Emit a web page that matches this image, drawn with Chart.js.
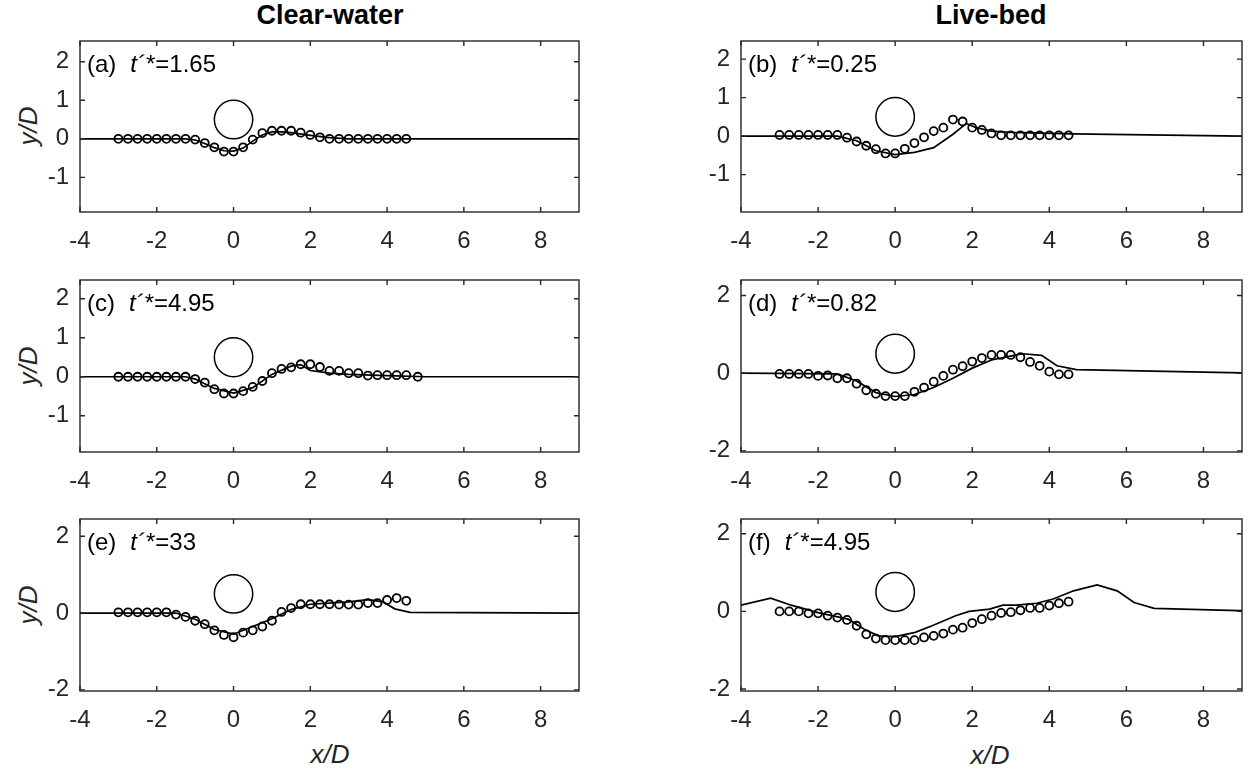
<!DOCTYPE html>
<html>
<head>
<meta charset="utf-8">
<script src="https://cdn.jsdelivr.net/npm/chart.js@4.4.1/dist/chart.umd.min.js"></script>
<style>
body { margin: 0; background: #fff; width: 1249px; height: 771px; position: relative; overflow: hidden; font-family: 'Liberation Sans', Arial, sans-serif; }
.box { position: absolute; }
.txt { position: absolute; white-space: nowrap; line-height: 1; transform: translate(-50%, -50%); color: #262626; }
.ttl { font-weight: bold; font-size: 27px; color: #000; }
.lab { font-style: italic; font-size: 26px; }
</style>
</head>
<body>
<div class="txt ttl" style="left:330px; top:15px">Clear-water</div>
<div class="txt ttl" style="left:991px; top:15px">Live-bed</div>
<div class="txt lab" style="left:28px; top:126px; transform:translate(-50%,-50%) rotate(-90deg)">y/D</div>
<div class="txt lab" style="left:28px; top:366px; transform:translate(-50%,-50%) rotate(-90deg)">y/D</div>
<div class="txt lab" style="left:28px; top:605px; transform:translate(-50%,-50%) rotate(-90deg)">y/D</div>
<div class="txt lab" style="left:330px; top:754px">x/D</div>
<div class="txt lab" style="left:990px; top:755px">x/D</div>

<script>
// axis ticks
const xTicks = [-4, -2, 0, 2, 4, 6, 8];
const yTicksFine = [-1, 0, 1, 2];
const yTicksCoarse = [-2, 0, 2];

// pier (circle of diameter D centred at x=0, y=0.5)
const pierX = 0, pierY = 0.5, pierR = 0.5;

// measured bed profile, x positions
const expX = [-3, -2.75, -2.5, -2.25, -2, -1.75, -1.5, -1.25, -1, -0.75, -0.5, -0.25, 0, 0.25, 0.5, 0.75,
  1, 1.25, 1.5, 1.75, 2, 2.25, 2.5, 2.75, 3, 3.25, 3.5, 3.75, 4, 4.25, 4.5];
const expXc = [-3, -2.75, -2.5, -2.25, -2, -1.75, -1.5, -1.25, -1, -0.75, -0.5, -0.25, 0, 0.25, 0.5, 0.75,
  1, 1.25, 1.5, 1.75, 2, 2.25, 2.5, 2.75, 3, 3.25, 3.5, 3.75, 4, 4.25, 4.5, 4.8];

// (a) clear-water t'*=1.65
const expA = [0, 0, 0, 0, 0, 0, 0, 0, -0.02, -0.11, -0.22, -0.33, -0.33, -0.22, -0.02, 0.15,
  0.21, 0.21, 0.21, 0.16, 0.10, 0.04, 0, 0, 0, 0, 0, 0, 0, 0, 0];
const numXA = [-4, -1.25, -1, -0.75, -0.5, -0.25, 0, 0.25, 0.5, 0.75, 1, 1.25, 1.5, 2, 2.5, 3, 9];
const numYA = [0, 0, -0.03, -0.12, -0.23, -0.31, -0.32, -0.24, -0.06, 0.1, 0.18, 0.18, 0.16, 0.09, 0.03, 0, 0];

// (b) live-bed t'*=0.25
const expB = [0.03, 0.03, 0.03, 0.03, 0.03, 0.03, 0.03, -0.04, -0.14, -0.25, -0.34, -0.45, -0.45, -0.33, -0.18, -0.03,
  0.13, 0.22, 0.43, 0.38, 0.22, 0.16, 0.07, 0.02, 0.02, 0.02, 0.02, 0.02, 0.02, 0.02, 0.02];
const numXB = [-4, -1.5, -1, -0.5, 0, 0.5, 1, 1.5, 1.85, 2.1, 2.5, 3, 4.6, 9];
const numYB = [0, 0, -0.12, -0.38, -0.48, -0.42, -0.3, 0.05, 0.33, 0.22, 0.13, 0.1, 0.06, 0];

// (c) clear-water t'*=4.95
const expC = [0, 0, 0, 0, 0, 0, 0, 0, -0.06, -0.15, -0.32, -0.43, -0.43, -0.37, -0.26, -0.11,
  0.09, 0.2, 0.24, 0.32, 0.32, 0.25, 0.15, 0.15, 0.09, 0.09, 0.03, 0.04, 0.04, 0.04, 0.04, 0];
const numXC = [-4, -1.25, -1, -0.5, 0, 0.5, 1, 1.5, 1.75, 2, 2.5, 3, 4, 5, 9];
const numYC = [0, 0, -0.06, -0.3, -0.42, -0.28, 0.06, 0.27, 0.31, 0.16, 0.09, 0.06, 0.03, 0, 0];

// (d) live-bed t'*=0.82
const expD = [-0.02, -0.02, -0.02, -0.02, -0.07, -0.06, -0.13, -0.13, -0.27, -0.44, -0.53, -0.59, -0.59, -0.59, -0.48, -0.37,
  -0.22, -0.07, 0.09, 0.18, 0.30, 0.39, 0.47, 0.47, 0.47, 0.41, 0.29, 0.19, 0.04, -0.03, -0.03];
const numXD = [-4, -1.5, -1, -0.5, 0, 0.5, 1, 1.5, 2, 2.5, 3, 3.3, 3.8, 4.2, 4.7, 9];
const numYD = [0, -0.02, -0.2, -0.5, -0.6, -0.55, -0.37, -0.13, 0.13, 0.34, 0.44, 0.5, 0.46, 0.19, 0.09, 0.01];

// (e) clear-water t'*=33
const expE = [0.02, 0.02, 0.02, 0.02, 0.02, 0.02, -0.04, -0.1, -0.2, -0.29, -0.45, -0.57, -0.63, -0.51, -0.45, -0.35,
  -0.2, 0.03, 0.13, 0.23, 0.23, 0.23, 0.23, 0.22, 0.22, 0.22, 0.26, 0.26, 0.34, 0.39, 0.32];
const numXE = [-4, -1.5, -1, -0.5, 0, 0.5, 1, 1.5, 2, 3, 3.5, 3.9, 4.2, 4.6, 9];
const numYE = [0, 0, -0.16, -0.43, -0.55, -0.35, -0.15, 0.09, 0.23, 0.29, 0.35, 0.29, 0.11, 0.02, 0];

// (f) live-bed t'*=4.95
const expF = [0, 0, 0, -0.05, -0.05, -0.11, -0.16, -0.22, -0.37, -0.59, -0.7, -0.74, -0.74, -0.74, -0.74, -0.67,
  -0.63, -0.57, -0.47, -0.42, -0.3, -0.2, -0.11, -0.04, -0.02, 0.03, 0.09, 0.09, 0.15, 0.21, 0.25];
const numXF = [-4, -3.23, -2.7, -2.0, -1.22, -0.8, -0.44, 0, 0.52, 0.96, 1.57, 1.92, 2.45, 2.8, 3.14, 3.67,
  4.1, 4.63, 5.24, 5.76, 6.2, 6.72, 8.9, 9];
const numYF = [0.16, 0.34, 0.16, -0.03, -0.2, -0.46, -0.63, -0.65, -0.54, -0.37, -0.11, 0, 0.06, 0.16, 0.16, 0.21,
  0.32, 0.53, 0.68, 0.53, 0.23, 0.08, 0.02, 0.02];

const axisColor = '#262626';
const fontFam = "'Liberation Sans', Arial, sans-serif";
const TL = 5; // inward tick length
const PADL = 70, PADT = 14, PADR = 6, PADB = 50;

const panels = [
  { tag: '(a)', t: '1.65', left: 80, top: 41, w: 499, h: 171, yMin: -1.9, yMax: 2.54, yTicks: yTicksFine, ex: expX, ey: expA, nx: numXA, ny: numYA },
  { tag: '(b)', t: '0.25', left: 741, top: 41, w: 501, h: 171, yMin: -1.97, yMax: 2.47, yTicks: yTicksFine, ex: expX, ey: expB, nx: numXB, ny: numYB },
  { tag: '(c)', t: '4.95', left: 80, top: 280, w: 499, h: 172, yMin: -1.93, yMax: 2.48, yTicks: yTicksFine, ex: expXc, ey: expC, nx: numXC, ny: numYC },
  { tag: '(d)', t: '0.82', left: 741, top: 280, w: 501, h: 172, yMin: -2.03, yMax: 2.4, yTicks: yTicksCoarse, ex: expX, ey: expD, nx: numXD, ny: numYD },
  { tag: '(e)', t: '33', left: 80, top: 519, w: 499, h: 172, yMin: -2.03, yMax: 2.45, yTicks: yTicksCoarse, ex: expX, ey: expE, nx: numXE, ny: numYE },
  { tag: '(f)', t: '4.95', left: 741, top: 519, w: 501, h: 172, yMin: -2.05, yMax: 2.38, yTicks: yTicksCoarse, ex: expX, ey: expF, nx: numXF, ny: numYF }
];

const decor = {
  id: 'decor',
  afterDraw(chart, args, o) {
    const { ctx, chartArea: a, scales: { x, y } } = chart;
    ctx.save();
    // pier
    const cx = x.getPixelForValue(pierX), cy = y.getPixelForValue(pierY);
    const rx = x.getPixelForValue(pierX + pierR) - cx;
    const ry = cy - y.getPixelForValue(pierY + pierR);
    ctx.beginPath();
    ctx.ellipse(cx, cy, rx, ry, 0, 0, 2 * Math.PI);
    ctx.lineWidth = 1.5;
    ctx.strokeStyle = '#000';
    ctx.stroke();
    // box + inward ticks
    ctx.strokeStyle = axisColor;
    ctx.lineWidth = 1.4;
    ctx.strokeRect(a.left, a.top, a.width, a.height);
    ctx.beginPath();
    x.ticks.forEach(t => {
      const px = x.getPixelForValue(t.value);
      ctx.moveTo(px, a.bottom); ctx.lineTo(px, a.bottom - TL);
      ctx.moveTo(px, a.top); ctx.lineTo(px, a.top + TL);
    });
    y.ticks.forEach(t => {
      const py = y.getPixelForValue(t.value);
      ctx.moveTo(a.left, py); ctx.lineTo(a.left + TL, py);
      ctx.moveTo(a.right, py); ctx.lineTo(a.right - TL, py);
    });
    ctx.stroke();
    // panel label
    ctx.fillStyle = '#000';
    ctx.textBaseline = 'alphabetic';
    let tx = a.left + 7;
    const by = a.top + 31;
    ctx.font = '24px ' + fontFam;
    ctx.fillText(o.tag, tx, by);
    tx += ctx.measureText(o.tag).width + 14;
    ctx.font = 'italic 24px ' + fontFam;
    ctx.fillText('t\u00B4*', tx, by);
    tx += ctx.measureText('t\u00B4*').width + 1;
    ctx.font = '24px ' + fontFam;
    ctx.fillText('=' + o.t, tx, by);
    ctx.restore();
  }
};

function noPad(s) {
  s.paddingTop = 0; s.paddingBottom = 0; s.paddingLeft = 0; s.paddingRight = 0;
}

panels.forEach(p => {
  const div = document.createElement('div');
  div.className = 'box';
  div.style.left = (p.left - PADL) + 'px';
  div.style.top = (p.top - PADT) + 'px';
  div.style.width = (p.w + PADL + PADR) + 'px';
  div.style.height = (p.h + PADT + PADB) + 'px';
  const cv = document.createElement('canvas');
  div.appendChild(cv);
  document.body.appendChild(div);

  new Chart(cv, {
    type: 'scatter',
    data: {
      datasets: [
        {
          data: p.nx.map((v, i) => ({ x: v, y: p.ny[i] })),
          showLine: true, borderColor: '#000', borderWidth: 1.7, pointRadius: 0, tension: 0
        },
        {
          data: p.ex.map((v, i) => ({ x: v, y: p.ey[i] })),
          showLine: false, pointStyle: 'circle', pointRadius: 4,
          borderColor: '#000', backgroundColor: 'rgba(0,0,0,0)', borderWidth: 1.8
        }
      ]
    },
    options: {
      responsive: true,
      maintainAspectRatio: false,
      animation: false,
      layout: { padding: { left: 0, top: PADT, right: PADR, bottom: 0 } },
      plugins: {
        legend: { display: false },
        tooltip: { enabled: false },
        decor: { tag: p.tag, t: p.t }
      },
      scales: {
        x: {
          type: 'linear', min: -4, max: 9,
          afterBuildTicks: s => { s.ticks = xTicks.map(v => ({ value: v })); },
          afterFit: s => { s.height = PADB; noPad(s); },
          grid: { display: false, drawTicks: false },
          border: { display: false },
          ticks: { color: axisColor, font: { family: fontFam, size: 24 }, padding: 15, maxRotation: 0, autoSkip: false }
        },
        y: {
          type: 'linear', min: p.yMin, max: p.yMax,
          afterBuildTicks: s => { s.ticks = p.yTicks.map(v => ({ value: v })); },
          afterFit: s => { s.width = PADL; noPad(s); },
          grid: { display: false, drawTicks: false },
          border: { display: false },
          ticks: { color: axisColor, font: { family: fontFam, size: 24 }, padding: 11, autoSkip: false }
        }
      }
    },
    plugins: [decor]
  });
});
</script>
</body>
</html>
